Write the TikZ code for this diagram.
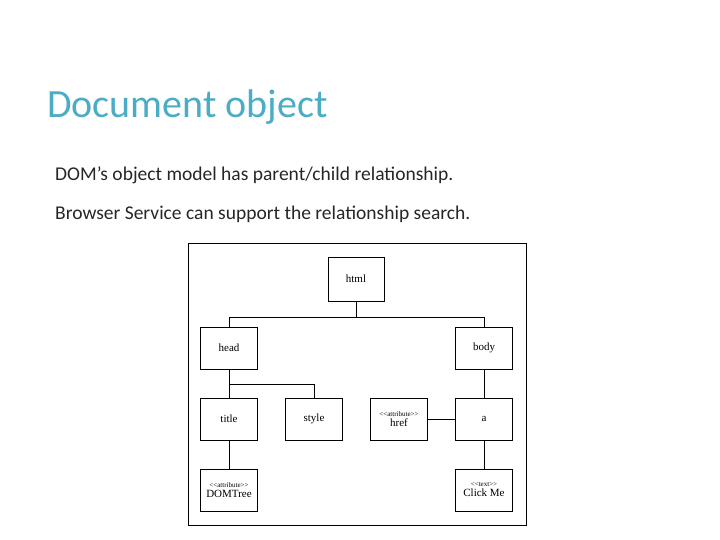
\documentclass[tikz,border=0pt]{standalone}
\usepackage{fontspec}
\setmainfont{Carlito}
\newfontfamily\boxfont{Liberation Serif}
\usetikzlibrary{positioning}
\definecolor{titleteal}{RGB}{75,172,198}
\tikzset{
  elem/.style={draw, line width=0.8pt, minimum width=57pt, minimum height=42pt, inner sep=1pt,
    font=\boxfont\fontsize{11}{12}\selectfont, align=center},
  link/.style={line width=0.8pt}
}
\begin{document}
\begin{tikzpicture}[x=1pt,y=-1pt]
  \useasboundingbox (0,0) rectangle (720,540);
  % heading and text
  \node[anchor=base west, inner sep=0, text=titleteal, font=\fontsize{40}{44}\selectfont] (heading) at (47,118) {Document object};
  \node[anchor=base west, inner sep=0, font=\fontsize{19.5}{22}\selectfont, text=black!85] (line1) at (55,181) {DOM’s object model has parent/child relationship.};
  \node[anchor=base west, inner sep=0, font=\fontsize{19.5}{22}\selectfont, text=black!85] (line2) at (55,219) {Browser Service can support the relationship search.};
  % frame
  \draw[line width=0.8pt] (188,243) rectangle (526,525);
  % elements
  \node[elem, minimum width=56pt, minimum height=44pt] (html) at (356,279) {html};
  \node[elem] (head) at (229,348) {head};
  \node[elem] (body) at (484,348) {body};
  \node[elem] (title) at (229,419) {title};
  \node[elem] (style) at (314,419) {style};
  \node[elem] (href) at (399,419) {{\fontsize{7}{7}\selectfont<<attribute>>}\\[-2pt]href};
  \node[elem] (a) at (484,419) {a};
  \node[elem] (domtree) at (229,490) {{\fontsize{7}{7}\selectfont<<attribute>>}\\[-2pt]DOMTree};
  \node[elem] (clickme) at (484,490) {{\fontsize{7}{7}\selectfont<<text>>}\\[-2pt]Click Me};
  % connectors
  \draw[link] (html.south) -- ++(0,16) coordinate (hbus);
  \draw[link] (head.north) |- (hbus) -| (body.north);
  \draw[link] (head.south) -- (title.north);
  \draw[link] (head.south) ++(0,15) coordinate (sbus) -| (style.north);
  \draw[link] (title.south) -- (domtree.north);
  \draw[link] (body.south) -- (a.north);
  \draw[link] (href.east) -- (a.west);
  \draw[link] (a.south) -- (clickme.north);
\end{tikzpicture}
\end{document}
